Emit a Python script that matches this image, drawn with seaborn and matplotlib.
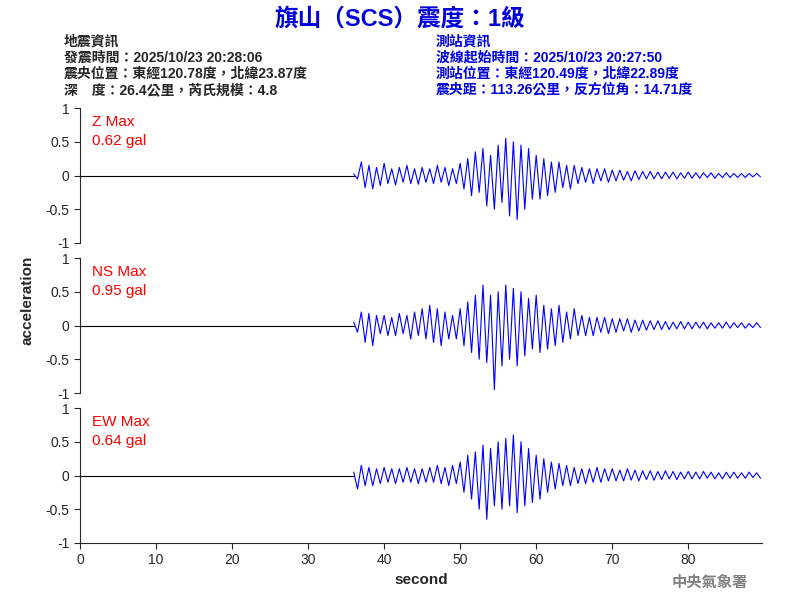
import numpy as np
import pandas as pd
import seaborn as sns
import matplotlib.pyplot as plt

# waveform peaks read at 0.5 s steps from 36 s onward
t_start = 36.0
z_vals = [0.02, -0.05, 0.2, -0.18, 0.15, -0.2, 0.12, -0.15, 0.18, -0.12,
          0.1, -0.14, 0.12, -0.1, 0.15, -0.12, 0.1, -0.13, 0.12, -0.1,
          0.1, -0.12, 0.15, -0.1, 0.12, -0.15, 0.1, -0.12, 0.18, -0.2,
          0.25, -0.3, 0.35, -0.25, 0.4, -0.45, 0.3, -0.5, 0.45, -0.4,
          0.55, -0.6, 0.5, -0.65, 0.45, -0.5, 0.4, -0.35, 0.3, -0.35,
          0.25, -0.3, 0.2, -0.25, 0.2, -0.18, 0.15, -0.2, 0.15, -0.12,
          0.12, -0.1, 0.1, -0.12, 0.1, -0.08, 0.1, -0.1, 0.08, -0.08,
          0.08, -0.07, 0.06, -0.08, 0.07, -0.06, 0.06, -0.05, 0.06, -0.05,
          0.05, -0.05, 0.05, -0.04, 0.05, -0.05, 0.04, -0.04, 0.05, -0.04,
          0.04, -0.04, 0.04, -0.03, 0.04, -0.04, 0.03, -0.03, 0.04, -0.03,
          0.03, -0.03, 0.03, -0.03, 0.03, -0.02, 0.03, -0.02]
ns_vals = [0.05, -0.1, 0.2, -0.25, 0.18, -0.3, 0.15, -0.12, 0.15, -0.15,
           0.12, -0.15, 0.18, -0.12, 0.15, -0.2, 0.2, -0.15, 0.25, -0.2,
           0.3, -0.25, 0.25, -0.3, 0.2, -0.2, 0.15, -0.2, 0.25, -0.3,
           0.35, -0.4, 0.45, -0.5, 0.6, -0.55, 0.45, -0.95, 0.5, -0.6,
           0.6, -0.5, 0.55, -0.6, 0.5, -0.45, 0.4, -0.35, 0.45, -0.4,
           0.3, -0.35, 0.25, -0.3, 0.3, -0.25, 0.2, -0.2, 0.25, -0.15,
           0.15, -0.15, 0.12, -0.15, 0.12, -0.1, 0.12, -0.12, 0.1, -0.1,
           0.1, -0.08, 0.1, -0.1, 0.08, -0.08, 0.08, -0.07, 0.07, -0.06,
           0.07, -0.06, 0.06, -0.06, 0.05, -0.05, 0.06, -0.05, 0.05, -0.05,
           0.05, -0.04, 0.05, -0.05, 0.04, -0.04, 0.04, -0.04, 0.05, -0.04,
           0.04, -0.03, 0.04, -0.04, 0.03, -0.03, 0.04, -0.03]
ew_vals = [0.05, -0.2, 0.15, -0.15, 0.12, -0.15, 0.1, -0.12, 0.12, -0.1,
           0.1, -0.12, 0.1, -0.1, 0.12, -0.1, 0.1, -0.12, 0.1, -0.1,
           0.12, -0.1, 0.15, -0.12, 0.12, -0.15, 0.15, -0.12, 0.2, -0.25,
           0.3, -0.35, 0.35, -0.5, 0.45, -0.65, 0.4, -0.45, 0.5, -0.5,
           0.55, -0.45, 0.6, -0.55, 0.5, -0.45, 0.4, -0.4, 0.3, -0.35,
           0.25, -0.25, 0.2, -0.2, 0.18, -0.15, 0.15, -0.15, 0.12, -0.12,
           0.1, -0.12, 0.1, -0.1, 0.12, -0.1, 0.1, -0.08, 0.1, -0.08,
           0.08, -0.08, 0.1, -0.07, 0.08, -0.08, 0.07, -0.06, 0.07, -0.07,
           0.06, -0.06, 0.07, -0.05, 0.06, -0.06, 0.05, -0.05, 0.06, -0.05,
           0.05, -0.05, 0.06, -0.04, 0.05, -0.05, 0.04, -0.05, 0.05, -0.04,
           0.05, -0.04, 0.04, -0.04, 0.05, -0.03, 0.04, -0.04]
labels = ["Z Max\n0.62 gal", "NS Max\n0.95 gal", "EW Max\n0.64 gal"]

sns.set_style("white")
plt.rcParams['font.family'] = ['Liberation Sans', 'Noto Sans CJK TC', 'DejaVu Sans']

fig = plt.figure(figsize=(8, 6), dpi=100)
tops = [108, 258, 408]
for i, (vals, lab) in enumerate(zip([z_vals, ns_vals, ew_vals], labels)):
    top = tops[i]
    ax = fig.add_axes([0.1, 1 - (top + 135) / 600, 0.8525, 135 / 600])
    df = pd.DataFrame({"t": t_start + 0.5 * np.arange(len(vals)), "a": vals})
    pre = pd.DataFrame({"t": [0.0, t_start], "a": [0.0, 0.0]})
    sns.lineplot(data=pre, x="t", y="a", ax=ax, color="black", lw=0.8)
    sns.lineplot(data=df, x="t", y="a", ax=ax, color="blue", lw=0.8)
    ax.set_xlim(0, 89.7)
    ax.set_ylim(-1, 1)
    ax.set_yticks([-1, -0.5, 0, 0.5, 1])
    ax.set_yticklabels(["-1", "-0.5", "0", "0.5", "1"])
    ax.set_xlabel("")
    ax.set_ylabel("")
    ax.spines[["top", "right"]].set_visible(False)
    ax.tick_params(axis="both", direction="out", length=4, left=True, bottom=True, labelsize=10)
    ax.text(0.018, 0.95, lab, transform=ax.transAxes, color="red", fontsize=11,
            va="top", linespacing=1.5)
    if i < 2:
        ax.spines["bottom"].set_visible(False)
        ax.set_xticks([])
    else:
        ax.set_xticks(np.arange(0, 90, 10))
        ax.set_xlabel("second", fontsize=11, fontweight="bold")

fig.text(0.035, 0.5, "acceleration", rotation=90, va="center", ha="center",
         fontsize=11, fontweight="bold")
fig.text(0.5, 0.968, "旗山（SCS）震度：1級", color="#0000dd", fontsize=17,
         fontweight="bold", ha="center", va="center")
left_info = ("地震資訊\n發震時間：2025/10/23 20:28:06\n震央位置：東經120.78度，北緯23.87度\n"
             "深　度：26.4公里，芮氏規模：4.8")
right_info = ("測站資訊\n波線起始時間：2025/10/23 20:27:50\n測站位置：東經120.49度，北緯22.89度\n"
              "震央距：113.26公里，反方位角：14.71度")
fig.text(0.08, 0.943, left_info, fontsize=10, fontweight="bold", va="top", linespacing=1.2)
fig.text(0.545, 0.943, right_info, fontsize=10, fontweight="bold", va="top",
         color="#0000dd", linespacing=1.2)
fig.text(0.935, 0.03, "中央氣象署", color="gray", fontsize=11, fontweight="bold",
         ha="right", va="center")

fig.savefig("out.png", dpi=100)
